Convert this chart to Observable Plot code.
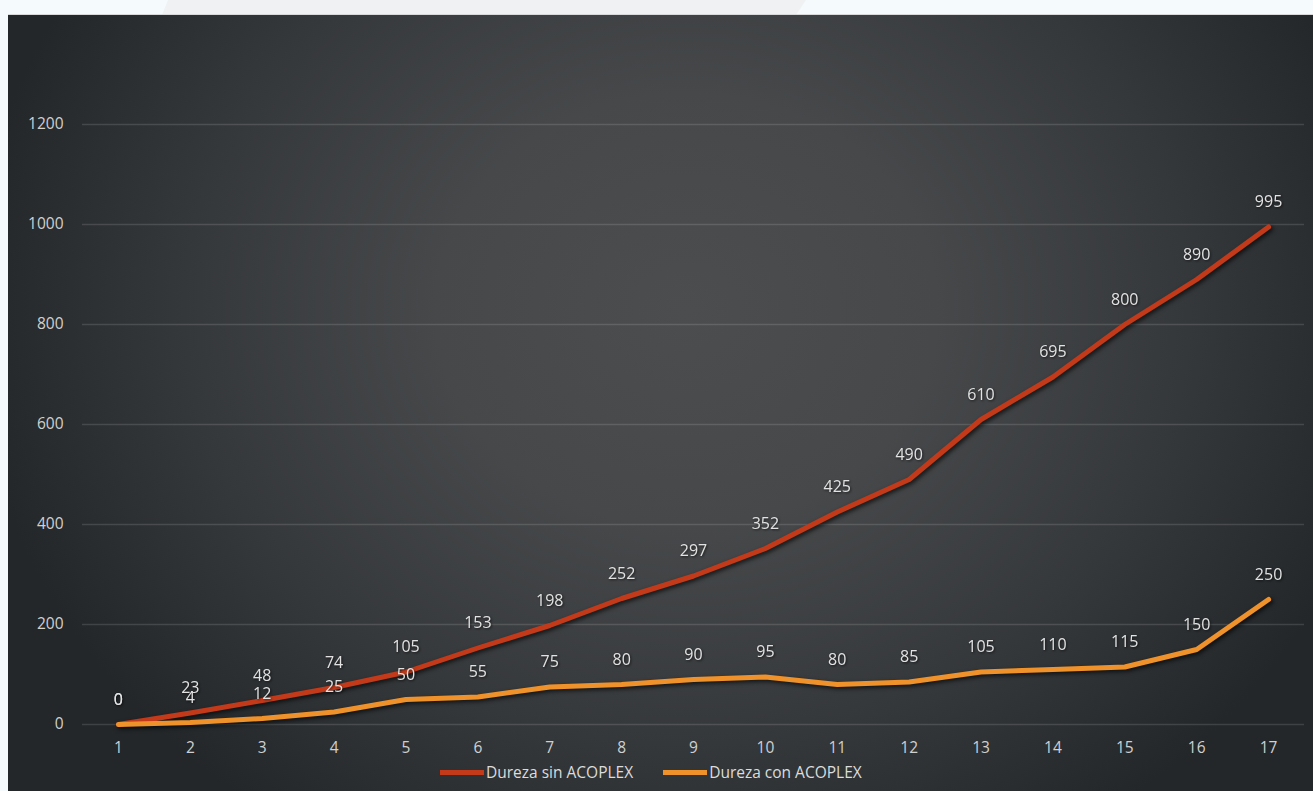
<!DOCTYPE html>
<html>
<head>
<meta charset="utf-8">
<script src="https://cdn.jsdelivr.net/npm/d3@7"></script>
<script src="https://cdn.jsdelivr.net/npm/@observablehq/plot@0.6"></script>
<style>
  html, body { margin: 0; padding: 0; width: 1313px; height: 791px; overflow: hidden; background: #f5fafc; font-family: "Open Sans", "Noto Sans", sans-serif; }
  #bgpoly { position: absolute; left: 0; top: 0; }
  #panel { position: absolute; left: 8px; top: 14px; width: 1305px; height: 777px;
    background: radial-gradient(ellipse 55% 80% at 52% 38%, #4c4d4f 0%, #46484a 35%, #35383b 70%, #23272a 100%);
    border-top: 1px solid #d8d9db; box-sizing: border-box; }
  #chart { position: absolute; left: 0; top: 0; }
  #legend { position: absolute; top: 761px; left: 440px; display: flex; gap: 30px; font-size: 15.5px; color: #dcdcdc; }
  .item { display: flex; align-items: center; }
  .sw { width: 44px; height: 5px; margin-right: 2px; }
</style>
</head>
<body>
<svg id="bgpoly" width="1313" height="15"><polygon points="168,0 806,0 796,15 162,15" fill="#f0f1f3"/></svg>
<div id="panel"></div>
<div id="chart"></div>
<div id="legend"></div>
<script>
const categories = [1,2,3,4,5,6,7,8,9,10,11,12,13,14,15,16,17];
const sinAcoplex = [0,23,48,74,105,153,198,252,297,352,425,490,610,695,800,890,995];
const conAcoplex = [0,4,12,25,50,55,75,80,90,95,80,85,105,110,115,150,250];
const seriesNames = ["Dureza sin ACOPLEX", "Dureza con ACOPLEX"];
const seriesColors = ["#c23a1a", "#f0922c"];
const yTicks = [0,200,400,600,800,1000,1200];

const data = [];
categories.forEach((c, i) => {
  data.push({x: c, y: sinAcoplex[i], s: seriesNames[0]});
  data.push({x: c, y: conAcoplex[i], s: seriesNames[1]});
});

const plot = Plot.plot({
  width: 1313,
  height: 791,
  marginTop: 124,
  marginBottom: 67,
  marginLeft: 82,
  marginRight: 9,
  style: { background: "transparent", fontFamily: "'Open Sans', 'Noto Sans', sans-serif", color: "#d2d2d2" },
  x: { type: "point", domain: categories, padding: 0.5, round: false, label: null },
  y: { domain: [0, 1200], label: null },
  color: { domain: seriesNames, range: seriesColors },
  marks: [
    Plot.gridY(yTicks, { stroke: "#ffffff", strokeOpacity: 0.13, strokeWidth: 1.5 }),
    Plot.axisY(yTicks, { tickSize: 0, tickPadding: 19, fontSize: 15.5, fill: "#d0d0d0", tickFormat: d => String(d), label: null }),
    Plot.axisX(categories, { tickSize: 0, tickPadding: 17, fontSize: 15.5, fill: "#d0d0d0", tickFormat: d => String(d), label: null }),
    Plot.line(data, { x: "x", y: "y", z: "s", stroke: "s", strokeWidth: 5, strokeLinejoin: "round", strokeLinecap: "round" }),
    Plot.text(data, { x: "x", y: "y", text: d => String(d.y), dy: -25, fontSize: 16, fill: "#e2e2e2" })
  ]
});
document.getElementById("chart").appendChild(plot);
d3.select(plot).selectAll('g[aria-label="line"]').style("filter", "drop-shadow(2px 2px 2px rgba(0,0,0,0.7))");
d3.select(plot).selectAll('g[aria-label="text"]').style("filter", "drop-shadow(1px 1px 1px rgba(0,0,0,0.6))");

const legend = d3.select("#legend");
seriesNames.forEach((n, i) => {
  const it = legend.append("div").attr("class", "item");
  it.append("div").attr("class", "sw").style("background", seriesColors[i]);
  it.append("span").text(n);
});
</script>
</body>
</html>
